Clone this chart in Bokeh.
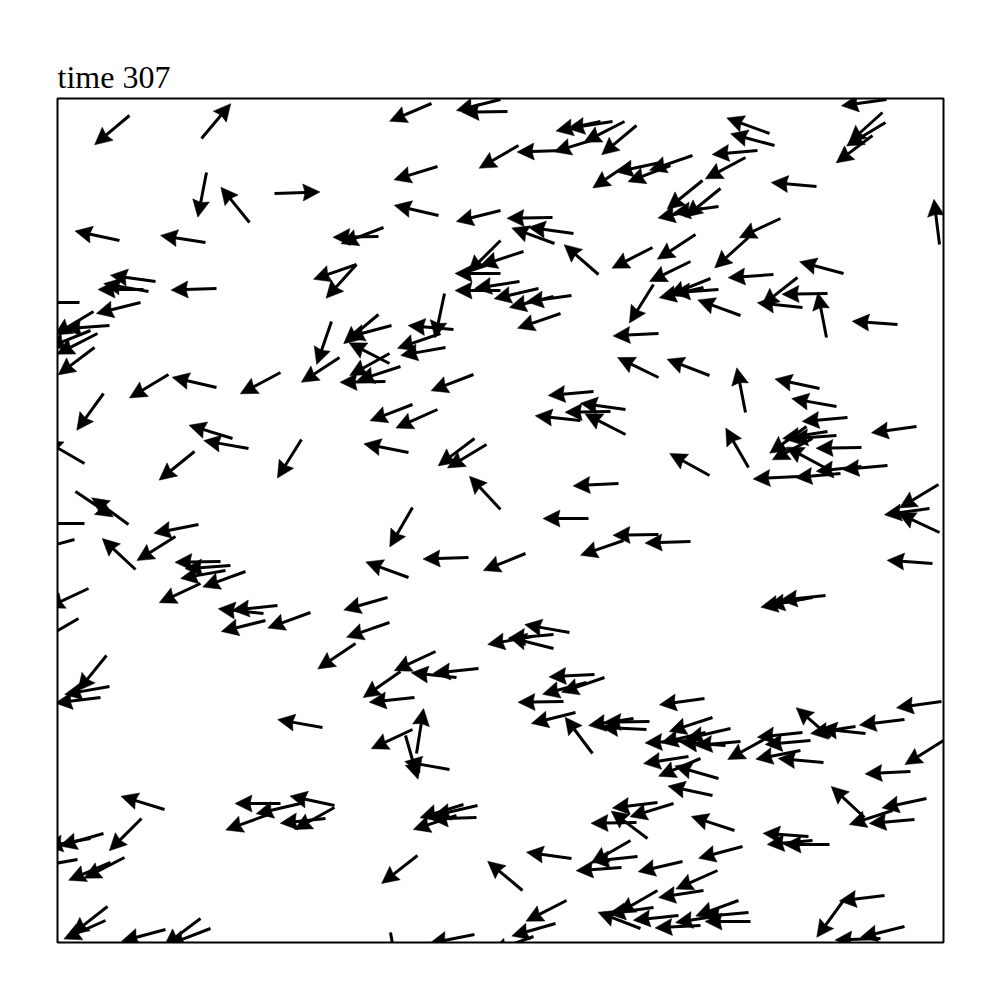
import numpy as np
from bokeh.plotting import figure
from bokeh.models import Range1d
from bokeh.embed import file_html
from bokeh.resources import INLINE

# Particle positions (box units) and heading angles (degrees, counter-clockwise from +x)
box_w = 886
box_h = 844
px = [72,144,149,192,217,62,148,98,91,86,159,22,83,36,52,33,40,37,374,443,450,380,461,381,443,326,321,299,299,443,
      443,443,387,396,383,388,274,321,334,332,332,343,282,223,416,543,555,567,540,579,505,635,613,603,573,700,688,645,663,645,
      661,495,516,497,541,595,638,633,466,462,481,514,496,503,596,653,646,661,683,601,601,652,829,825,828,815,712,717,759,882,
      723,691,786,716,740,770,745,769,840,688,762,779,111,159,46,175,191,137,27,244,71,18,27,17,141,118,78,163,173,168,
      188,143,31,21,220,206,208,253,328,355,380,351,417,429,443,355,411,351,468,330,332,298,378,343,536,568,553,523,568,652,
      561,531,601,633,566,512,496,496,475,790,779,804,749,755,769,770,830,804,783,741,691,859,881,872,882,875,768,755,748,49,
      52,43,107,84,46,33,20,67,53,50,48,108,143,153,223,243,211,277,277,268,421,399,357,265,355,359,348,392,406,420,
      419,399,360,465,333,417,537,547,529,506,647,518,535,592,589,576,655,633,648,673,683,668,631,643,661,655,600,616,590,579,
      677,514,573,580,564,625,685,660,646,509,498,476,600,596,583,621,663,681,691,693,643,884,847,808,773,798,745,710,743,766,
      753,853,886,869,857,807,835,751,772,755,827,786,847,823]
py = [827,804,770,720,749,702,700,661,651,653,654,640,640,631,617,612,609,595,839,843,831,776,797,727,732,715,706,678,678,702,
      669,652,649,613,609,595,621,628,617,579,589,576,585,570,568,821,821,821,804,817,792,787,777,780,780,792,785,762,754,734,
      736,725,709,699,668,695,708,681,691,661,654,647,646,629,658,664,655,653,627,609,565,567,843,830,820,807,809,797,756,698,
      724,705,669,668,665,649,635,605,618,530,554,536,568,555,549,504,494,491,479,503,418,451,419,403,418,406,373,381,377,372,
      371,359,354,324,337,329,322,330,561,538,533,490,504,498,433,435,385,365,389,345,320,299,291,271,551,533,531,522,508,467,
      459,424,408,401,402,310,308,294,306,525,507,495,516,504,474,511,477,476,469,466,475,516,458,434,410,379,347,345,344,287,
      256,245,133,124,109,104,83,85,80,36,22,13,24,14,139,139,128,137,135,124,274,265,245,215,213,189,207,173,138,137,
      125,127,87,52,10,8,268,265,260,241,244,230,189,221,213,224,225,202,210,214,201,197,186,184,164,147,140,139,104,120,
      112,84,102,86,75,81,96,72,52,42,19,6,52,35,14,27,27,42,30,21,17,241,223,209,205,216,210,205,192,180,
      202,171,202,144,123,125,132,106,98,102,47,42,16,4]
heading = [220,50,259,129,2,168,171,172,170,180,182,180,194,211,184,202,207,217,203,194,181,197,210,167,194,201,181,199,228,225,
           180,180,258,175,199,190,251,220,195,153,209,198,213,208,201,192,189,207,197,220,182,199,201,192,214,185,208,219,219,192,
           188,181,172,160,139,207,213,206,198,189,193,188,194,199,238,202,193,184,160,183,154,159,188,222,211,217,160,165,175,97,
           205,222,165,184,218,181,174,101,176,101,168,170,211,167,234,163,170,219,150,238,144,326,180,195,191,212,137,181,184,190,
           200,205,205,210,186,174,194,200,181,201,204,169,217,211,133,240,182,160,202,196,199,214,205,215,185,172,181,174,153,151,
           183,180,181,182,199,170,185,166,190,185,184,181,216,208,152,189,185,186,185,183,120,188,211,188,155,176,186,190,191,231,
           190,187,163,225,196,190,190,207,203,218,204,195,217,201,180,193,200,168,209,186,186,174,186,170,205,81,286,170,197,193,
           182,198,218,140,280,191,183,199,195,181,188,194,127,181,177,189,198,183,193,193,185,176,189,203,164,168,187,197,143,181,
           162,172,210,186,184,193,195,204,189,207,196,200,210,188,159,186,189,200,185,180,183,188,187,174,139,189,186,209,191,175,
           185,183,212,192,185,137,198,176,180,185,187,234,194,182]

x = np.array(px, dtype=float)
y = np.array(py, dtype=float)
ang = np.radians(np.array(heading, dtype=float))

# quiver styling (screen pixels; 1 box unit = 1 px here)
arrow_len = 45.5
head_len = 17.0
head_half = 8.5
head_axis = 15.0
shaft_w = 3

c = np.cos(ang)
s = np.sin(ang)
tipx = x + arrow_len * c
tipy = y + arrow_len * s
basex = tipx - head_len * c
basey = tipy - head_len * s
notchx = tipx - head_axis * c
notchy = tipy - head_axis * s
lx = basex - head_half * s
ly = basey + head_half * c
rx = basex + head_half * s
ry = basey - head_half * c

head_xs = [[tipx[i], lx[i], notchx[i], rx[i]] for i in range(len(x))]
head_ys = [[tipy[i], ly[i], notchy[i], ry[i]] for i in range(len(x))]

p = figure(frame_width=box_w, frame_height=box_h,
           x_range=Range1d(0, box_w), y_range=Range1d(0, box_h),
           output_backend="svg", toolbar_location=None,
           min_border_left=57, min_border_right=57, min_border_top=98, min_border_bottom=58,
           title="time 307")
p.axis.visible = False
p.grid.visible = False
p.outline_line_color = "black"
p.outline_line_width = 2
p.background_fill_color = "white"
p.border_fill_color = "white"

p.title.text_font = "Liberation Serif"
p.title.text_font_size = "32px"
p.title.text_font_style = "normal"
p.title.text_color = "black"
p.title.align = "left"
p.title.standoff = 8

p.segment(x0=x, y0=y, x1=notchx + 0.5 * c, y1=notchy + 0.5 * s,
          line_color="black", line_width=shaft_w, line_cap="butt")
p.patches(xs=head_xs, ys=head_ys, fill_color="black", line_color="black", line_width=0.5)

open("out.html", "w").write(file_html(p, INLINE))
